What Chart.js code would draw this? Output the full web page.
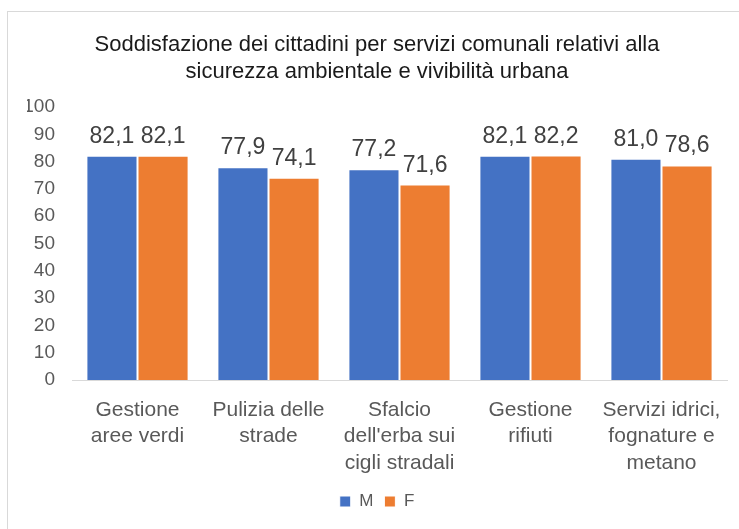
<!DOCTYPE html>
<html>
<head>
<meta charset="utf-8">
<script src="https://cdn.jsdelivr.net/npm/chart.js@4"></script>
<style>
    html, body { margin: 0; padding: 0; background: #fff; }
    #frame {
        position: absolute; left: 7px; top: 11px; width: 800px; height: 600px;
        border: 1px solid #d9d9d9;
    }
    #wrap { position: absolute; left: 0; top: 0; width: 739px; height: 529px; }
</style>
</head>
<body>
<div id="frame"></div>
<div id="wrap"><canvas id="bar-chart"></canvas></div>
<script>
// Dati del grafico
const categories = [
    ['Gestione', 'aree verdi'],
    ['Pulizia delle', 'strade'],
    ['Sfalcio', "dell'erba sui", 'cigli stradali'],
    ['Gestione', 'rifiuti'],
    ['Servizi idrici,', 'fognature e', 'metano']
];
const valuesM = [82.1, 77.9, 77.2, 82.1, 81.0];
const valuesF = [82.1, 74.1, 71.6, 82.2, 78.6];
const seriesNames = ['M', 'F'];
const yTicks = [0, 10, 20, 30, 40, 50, 60, 70, 80, 90, 100];

const FONT = "'Liberation Sans', Arial, sans-serif";

// Etichette dei valori sopra le barre
const valueLabels = {
    id: 'valueLabels',
    afterDatasetsDraw(chart) {
        const ctx = chart.ctx;
        ctx.save();
        ctx.font = '23px ' + FONT;
        ctx.fillStyle = '#404040';
        ctx.textAlign = 'center';
        ctx.textBaseline = 'alphabetic';
        chart.data.datasets.forEach((ds, i) => {
            chart.getDatasetMeta(i).data.forEach((bar, j) => {
                const txt = ds.data[j].toFixed(1).replace('.', ',');
                ctx.fillText(txt, bar.x, bar.y - 13);
            });
        });
        ctx.restore();
    }
};

const ctx = document.getElementById('bar-chart').getContext('2d');
new Chart(ctx, {
    type: 'bar',
    data: {
        labels: categories,
        datasets: [
            {
                label: seriesNames[0],
                data: valuesM,
                backgroundColor: '#4472C4',
                borderColor: '#ffffff',
                borderWidth: 1
            },
            {
                label: seriesNames[1],
                data: valuesF,
                backgroundColor: '#ED7D31',
                borderColor: '#ffffff',
                borderWidth: 1
            }
        ]
    },
    options: {
        responsive: true,
        maintainAspectRatio: false,
        animation: false,
        datasets: {
            bar: { categoryPercentage: 0.78, barPercentage: 1 }
        },
        layout: { padding: { left: 27, right: 12, top: 0, bottom: 9 } },
        plugins: {
            title: {
                display: true,
                text: ['Soddisfazione dei cittadini per servizi comunali relativi alla',
                       'sicurezza ambientale e vivibilità urbana'],
                color: '#1a1a1a',
                font: { family: FONT, size: 22, weight: 'normal', lineHeight: 1.227 },
                padding: { top: 31, bottom: 22 }
            },
            legend: {
                position: 'bottom',
                labels: {
                    boxWidth: 11,
                    boxHeight: 11,
                    padding: 11,
                    color: '#595959',
                    font: { family: FONT, size: 17 }
                }
            },
            tooltip: { enabled: false }
        },
        scales: {
            x: {
                grid: { display: false, drawTicks: false },
                border: { color: '#d9d9d9' },
                afterFit: scale => { scale.height = 102; },
                ticks: {
                    color: '#595959',
                    padding: 17,
                    maxRotation: 0,
                    autoSkip: false,
                    font: { family: FONT, size: 21, lineHeight: 1.26 }
                }
            },
            y: {
                min: 0,
                max: 100,
                afterBuildTicks: scale => {
                    scale.ticks = yTicks.map(v => ({ value: v }));
                },
                afterFit: scale => { scale.width = 45; },
                grid: { display: false, drawTicks: false },
                border: { display: false },
                ticks: {
                    color: '#595959',
                    padding: 17,
                    font: { family: FONT, size: 19 }
                }
            }
        }
    },
    plugins: [valueLabels]
});
</script>
</body>
</html>
